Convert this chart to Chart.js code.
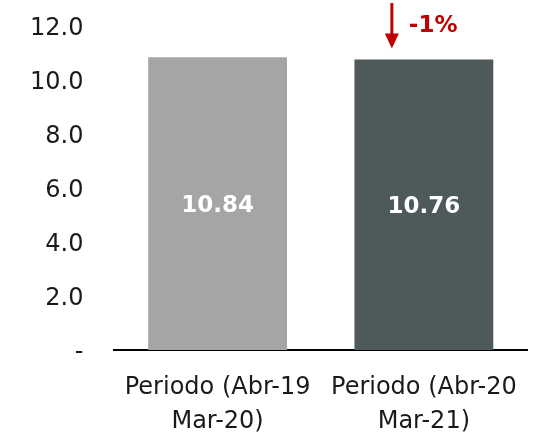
<!DOCTYPE html>
<html>
<head>
<meta charset="utf-8">
<script src="https://cdn.jsdelivr.net/npm/chart.js@4.4.1/dist/chart.umd.min.js"></script>
<style>
    html, body { margin: 0; padding: 0; background: #fff; }
    canvas { display: block; }
</style>
</head>
<body>
<canvas id="barChart" width="539" height="437"></canvas>
<script>
// Chart data
const categories = [["Periodo (Abr-19", "Mar-20)"], ["Periodo (Abr-20", "Mar-21)"]];
const values = [10.84, 10.76];
const barColors = ["#a5a5a5", "#4e5a59"];
const changeLabel = "-1%";
const yTicks = [0, 2, 4, 6, 8, 10, 12];

const FONT = "'DejaVu Sans', 'Open Sans', sans-serif";

// Red arrow and change label above the second bar
const changeArrow = {
    id: "changeArrow",
    afterDraw(chart) {
        const ctx = chart.ctx;
        const x = chart.scales.x.getPixelForValue(1) - 32;
        const yEnd = chart.scales.y.getPixelForValue(values[1]) - 11;
        ctx.save();
        ctx.strokeStyle = "#c00000";
        ctx.fillStyle = "#c00000";
        ctx.lineWidth = 3;
        ctx.beginPath();
        ctx.moveTo(x, 3);
        ctx.lineTo(x, yEnd - 13);
        ctx.stroke();
        ctx.beginPath();
        ctx.moveTo(x - 7, yEnd - 15);
        ctx.lineTo(x + 7, yEnd - 15);
        ctx.lineTo(x, yEnd);
        ctx.closePath();
        ctx.fill();
        ctx.font = "bold 23px " + FONT;
        ctx.textBaseline = "middle";
        ctx.textAlign = "left";
        ctx.fillText(changeLabel, x + 17, 26);
        ctx.restore();
    },
};

// White value labels in the middle of each bar
const barLabels = {
    id: "barLabels",
    afterDatasetsDraw(chart) {
        const ctx = chart.ctx;
        const meta = chart.getDatasetMeta(0);
        ctx.save();
        ctx.fillStyle = "#ffffff";
        ctx.font = "bold 23px " + FONT;
        ctx.textAlign = "center";
        ctx.textBaseline = "middle";
        meta.data.forEach((bar, i) => {
            const mid = (bar.y + bar.base) / 2;
            ctx.fillText(values[i].toFixed(2), bar.x, mid + 2);
        });
        ctx.restore();
    },
};

new Chart(document.getElementById("barChart"), {
    type: "bar",
    data: {
        labels: categories,
        datasets: [
            {
                data: values,
                backgroundColor: barColors,
                categoryPercentage: 0.673,
                barPercentage: 1.0,
            },
        ],
    },
    options: {
        responsive: false,
        animation: false,
        layout: {
            padding: { left: 26, right: 12, top: 26, bottom: 1 },
        },
        plugins: {
            legend: { display: false },
            tooltip: { enabled: false },
        },
        scales: {
            x: {
                grid: { display: false, tickLength: 8 },
                border: { display: true, color: "#000000", width: 2 },
                afterFit(axis) {
                    axis.height = 86;
                },
                ticks: {
                    color: "#1a1a1a",
                    font: { size: 24, family: FONT, lineHeight: 1.4 },
                    padding: 13,
                    maxRotation: 0,
                },
            },
            y: {
                min: 0,
                max: 12,
                afterBuildTicks(axis) {
                    axis.ticks = yTicks.map((v) => ({ value: v }));
                },
                grid: { display: false, tickLength: 27 },
                border: { display: false },
                ticks: {
                    color: "#1a1a1a",
                    font: { size: 24, family: FONT },
                    padding: 4,
                    labelOffset: 3,
                    callback: (v) => (v === 0 ? "-" : v.toFixed(1)),
                },
            },
        },
    },
    plugins: [barLabels, changeArrow],
});
</script>
</body>
</html>
